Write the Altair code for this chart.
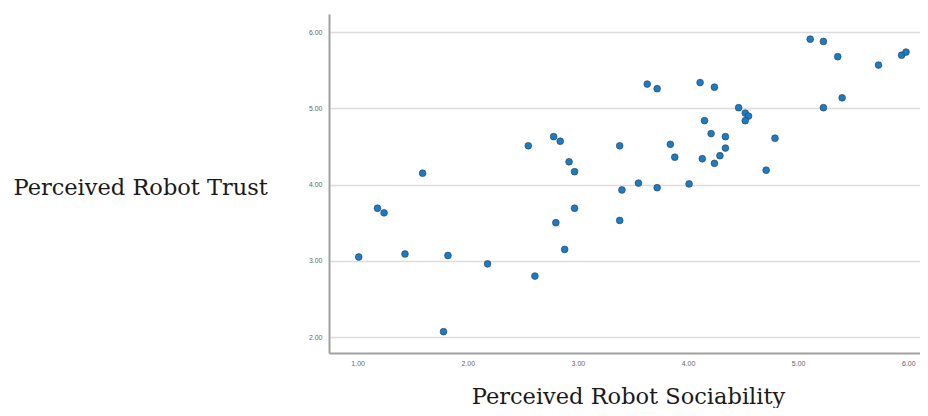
import altair as alt
import pandas as pd

sociability = [1.01, 1.18, 1.24, 1.43, 1.59, 1.78, 1.82, 2.18, 2.55, 2.61,
               2.78, 2.80, 2.84, 2.88, 2.92, 2.97, 2.97, 3.38, 3.40, 3.38,
               3.55, 3.63, 3.72, 3.72, 3.84, 3.88, 4.01, 4.11, 4.13, 4.15,
               4.21, 4.24, 4.24, 4.29, 4.34, 4.34, 4.46, 4.52, 4.55, 4.52,
               4.71, 4.79, 5.11, 5.23, 5.23, 5.36, 5.40, 5.73, 5.94, 5.98]
trust = [3.05, 3.69, 3.63, 3.09, 4.15, 2.07, 3.07, 2.96, 4.51, 2.80,
         4.63, 3.50, 4.57, 3.15, 4.30, 4.17, 3.69, 4.51, 3.93, 3.53,
         4.02, 5.32, 5.26, 3.96, 4.53, 4.36, 4.01, 5.34, 4.34, 4.84,
         4.67, 5.28, 4.28, 4.38, 4.63, 4.48, 5.01, 4.94, 4.90, 4.84,
         4.19, 4.61, 5.91, 5.88, 5.01, 5.68, 5.14, 5.57, 5.70, 5.74]
x_ticks = [1, 2, 3, 4, 5, 6]
y_ticks = [2, 3, 4, 5, 6]

df = pd.DataFrame({"Sociability": sociability, "Trust": trust})

chart = alt.Chart(df).mark_circle(
    size=46, opacity=1, color="#1a7cc6", stroke="#2b3a4a", strokeWidth=0.6
).encode(
    x=alt.X("Sociability:Q",
            scale=alt.Scale(domain=[0.74, 6.107], nice=False, zero=False),
            axis=alt.Axis(values=x_ticks, format=".2f", grid=False, ticks=False,
                          domainColor="#a0a0a0", domainWidth=2,
                          labelFontSize=7, labelColor="#666", labelPadding=6,
                          title="Perceived Robot Sociability",
                          titleFont="DejaVu Serif", titleFontSize=22.5,
                          titleFontWeight="normal", titleColor="#1a1a1a",
                          titleX=299, titleY=50, titleBaseline="alphabetic",
                          titleAlign="center")),
    y=alt.Y("Trust:Q",
            scale=alt.Scale(domain=[1.79, 6.24], nice=False, zero=False),
            axis=alt.Axis(values=y_ticks, format=".2f", grid=True,
                          gridColor="#dcdcdc", gridWidth=1.5, ticks=False,
                          domainColor="#a0a0a0", domainWidth=2,
                          labelFontSize=7, labelColor="#666", labelPadding=7,
                          title="Perceived Robot Trust",
                          titleFont="DejaVu Serif", titleFontSize=22.5,
                          titleFontWeight="normal", titleColor="#1a1a1a",
                          titleAngle=0, titleAlign="left",
                          titleX=-316, titleY=180, titleBaseline="alphabetic")),
).properties(
    width=591, height=339,
    autosize=alt.AutoSizeParams(type="none"),
    padding={"left": 321, "top": 6, "right": 0, "bottom": 55},
).configure_view(stroke=None)

chart.save("out.html", embed_options={"renderer": "svg", "actions": False})
